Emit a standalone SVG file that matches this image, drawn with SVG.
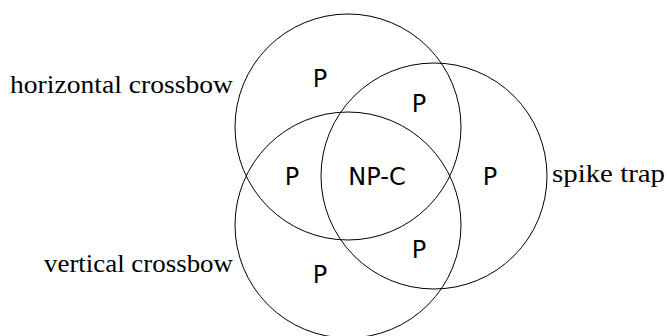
<svg xmlns="http://www.w3.org/2000/svg" width="667" height="336" viewBox="0 0 667 336">
<style>
.set{fill:none;stroke:#000;stroke-width:1}
.lbl{font-family:"Liberation Serif","DejaVu Serif",serif;font-size:26px;fill:#000}
.p{font-family:"DejaVu Sans","Liberation Sans",sans-serif;font-size:24px;fill:#000;text-anchor:middle}
</style>
<rect width="667" height="336" fill="#fff"/>
<g id="horizontal">
<circle class="set" cx="348" cy="127" r="113"/>
<text class="lbl" x="10" y="93" textLength="223" lengthAdjust="spacingAndGlyphs">horizontal crossbow</text>
</g>
<g id="vertical">
<circle class="set" cx="348" cy="225" r="113"/>
<text class="lbl" x="44" y="272" textLength="189" lengthAdjust="spacingAndGlyphs">vertical crossbow</text>
</g>
<g id="spike">
<circle class="set" cx="434" cy="176" r="113"/>
<text class="lbl" x="552" y="182" textLength="113" lengthAdjust="spacingAndGlyphs">spike trap</text>
</g>
<g id="regions">
<text class="p" x="320" y="87">P</text>
<text class="p" x="419" y="112">P</text>
<text class="p" x="292" y="185">P</text>
<text class="p" x="377" y="185">NP-C</text>
<text class="p" x="490" y="185">P</text>
<text class="p" x="419" y="258">P</text>
<text class="p" x="320" y="283">P</text>
</g>
</svg>
